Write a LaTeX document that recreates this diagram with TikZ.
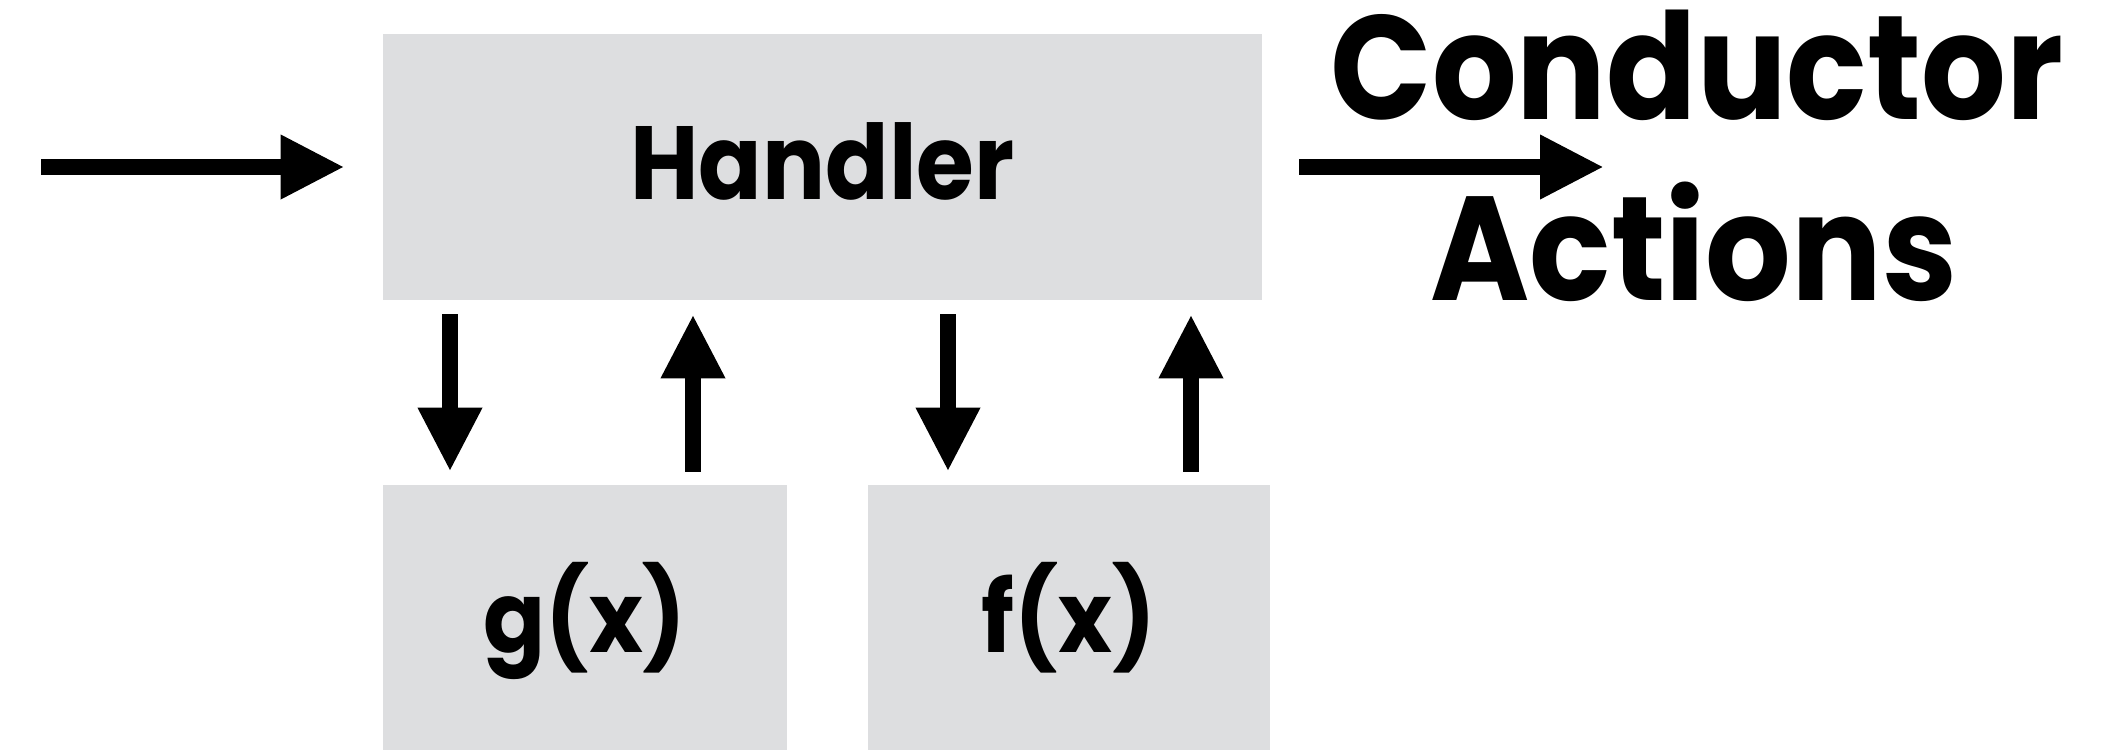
\documentclass[tikz,border=0pt]{standalone}
\usepackage{fontspec}
\setmainfont{Poppins}
\usetikzlibrary{arrows.meta}
\definecolor{boxgray}{RGB}{221,222,224}
\begin{document}
\begin{tikzpicture}[x=0.5pt,y=-0.5pt,
  box/.style={fill=boxgray, draw=none, rectangle, inner sep=0pt, font=\bfseries\fontsize{52}{60}\selectfont},
  conn/.style={line width=8pt, -{Triangle[length=32pt,width=30pt]}},
  biglbl/.style={font=\bfseries\fontsize{74}{80}\selectfont, inner sep=0pt, anchor=base}]
\useasboundingbox (0,0) rectangle (2121,750);
\node[box, minimum width=439.5pt, minimum height=133pt, text height=32pt, text depth=0pt] (H) at (822.5,167) {\scalebox{0.9}[1]{Handler}};
\node[box, minimum width=202pt, minimum height=132.5pt, text height=34.5pt, text depth=0pt] (G) at (585,617.5) {\scalebox{0.88}[0.95]{g(x)}};
\node[box, minimum width=201pt, minimum height=132.5pt, text height=34.5pt, text depth=0pt] (F) at (1069,617.5) {\scalebox{0.88}[0.95]{f(x)}};
\node[biglbl] (C) at (1697,119) {\scalebox{0.9}[1]{Conductor}};
\node[biglbl] (A) at (1694,300) {\scalebox{0.91}[1]{Actions}};
\coordinate (in) at (41,167);
\coordinate (out) at (1604,167);
\coordinate (a1) at (450,0);
\coordinate (a2) at (693,0);
\coordinate (a3) at (948,0);
\coordinate (a4) at (1191,0);
\draw[conn, shorten >=19pt] (in) -- (H.west);
\draw[conn, shorten <=18.5pt] (H.east) -- (out);
\draw[conn, shorten <=7pt, shorten >=6.5pt] (H.south -| a1) -- (G.north -| a1);
\draw[conn, shorten <=6.5pt, shorten >=7pt] (G.north -| a2) -- (H.south -| a2);
\draw[conn, shorten <=7pt, shorten >=6.5pt] (H.south -| a3) -- (F.north -| a3);
\draw[conn, shorten <=6.5pt, shorten >=7pt] (F.north -| a4) -- (H.south -| a4);
\end{tikzpicture}
\end{document}
